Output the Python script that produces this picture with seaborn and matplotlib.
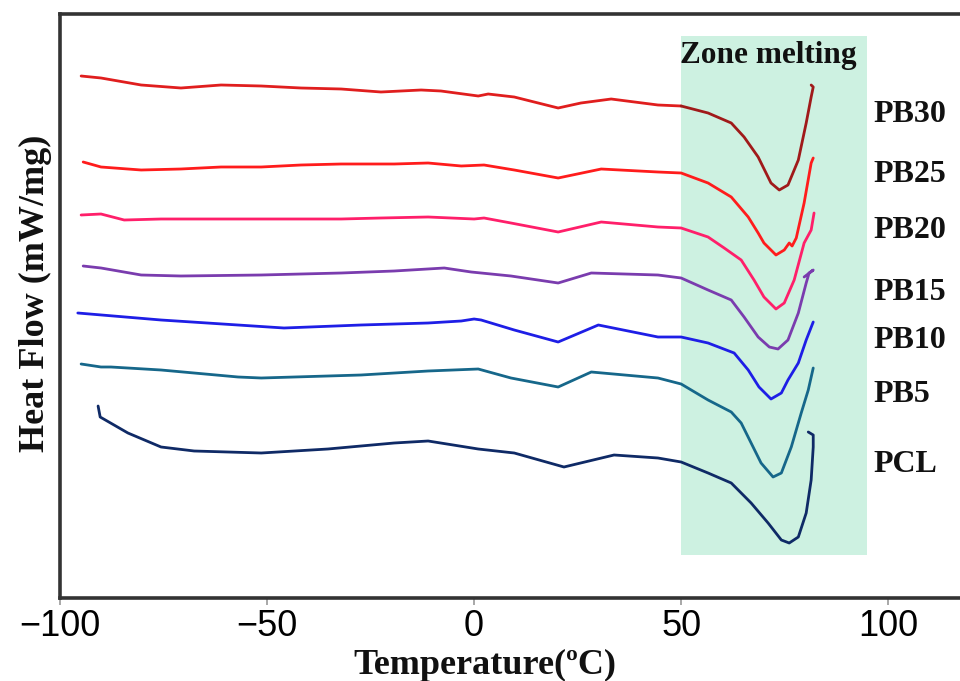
import pandas as pd
import matplotlib.pyplot as plt
import seaborn as sns

# DSC curves (heat flow in arbitrary, stacked units)
temp_pb30 = [-94.9, -90.1, -80.4, -70.8, -61.1, -51.4, -41.8, -32.1, -22.5, -12.8, -8.0, 1.0, 3.4, 9.7,
             20.3, 25.8, 33.1, 44.4, 50.0, 56.5, 62.1, 65.2, 68.6, 71.7, 73.7, 75.8, 78.3, 80.2, 81.4, 81.9, 81.4]
hf_pb30 = [5.21, 5.19, 5.12, 5.09, 5.12, 5.11, 5.09, 5.08, 5.05, 5.07, 5.06, 5.01, 5.03, 5.00,
           4.89, 4.94, 4.98, 4.92, 4.91, 4.84, 4.74, 4.60, 4.40, 4.14, 4.07, 4.12, 4.37, 4.74, 5.00, 5.10, 5.12]

temp_pb25 = [-94.4, -90.1, -80.4, -70.8, -61.1, -51.4, -41.8, -32.1, -19.3, -11.1, -3.1, 2.4, 9.7, 20.3,
             30.7, 44.4, 50.0, 56.5, 62.1, 66.2, 68.6, 70.0, 72.9, 74.9, 76.1, 76.8, 77.8, 79.7, 81.4, 81.9]
hf_pb25 = [4.35, 4.30, 4.27, 4.28, 4.30, 4.30, 4.32, 4.33, 4.33, 4.34, 4.31, 4.32, 4.27, 4.19,
           4.28, 4.25, 4.24, 4.14, 4.00, 3.80, 3.64, 3.54, 3.42, 3.47, 3.54, 3.51, 3.59, 3.94, 4.34, 4.39]

temp_pb20 = [-94.9, -90.1, -84.5, -75.6, -51.4, -32.1, -22.5, -11.1, 0.0, 2.4, 8.9, 20.3, 30.7,
             44.4, 50.0, 56.5, 60.4, 64.5, 67.6, 70.0, 72.9, 74.9, 77.3, 79.7, 81.4, 82.1]
hf_pb20 = [3.82, 3.83, 3.77, 3.78, 3.78, 3.78, 3.79, 3.80, 3.78, 3.79, 3.74, 3.65, 3.75,
           3.70, 3.69, 3.60, 3.49, 3.37, 3.17, 3.00, 2.88, 2.94, 3.17, 3.54, 3.67, 3.84]

temp_pb15 = [-94.4, -90.1, -80.4, -70.8, -51.4, -32.1, -19.3, -7.2, -0.7, 8.9, 20.3, 28.3, 44.4,
             50.0, 56.5, 62.1, 65.2, 68.6, 71.3, 73.4, 75.8, 78.3, 80.2, 80.9, 81.9, 79.7]
hf_pb15 = [3.31, 3.29, 3.22, 3.21, 3.22, 3.24, 3.26, 3.29, 3.25, 3.21, 3.14, 3.24, 3.22,
           3.19, 3.07, 2.97, 2.80, 2.60, 2.50, 2.48, 2.57, 2.84, 3.14, 3.24, 3.27, 3.20]

temp_pb10 = [-95.7, -75.6, -45.9, -27.3, -11.1, -3.1, 0.0, 1.7, 9.7, 20.3, 30.0, 44.4, 50.0,
             56.5, 62.8, 66.2, 68.8, 71.7, 74.2, 75.8, 78.3, 80.2, 81.9]
hf_pb10 = [2.84, 2.77, 2.69, 2.72, 2.74, 2.76, 2.78, 2.77, 2.67, 2.55, 2.72, 2.60, 2.60,
           2.54, 2.44, 2.27, 2.10, 1.98, 2.04, 2.17, 2.34, 2.57, 2.75]

temp_pb5 = [-94.9, -90.1, -87.7, -75.6, -57.0, -51.4, -27.3, -11.1, 1.0, 8.9, 20.3, 28.3, 44.4,
            50.0, 56.5, 62.1, 64.5, 66.9, 69.3, 72.2, 74.2, 76.6, 79.0, 80.7, 81.9]
hf_pb5 = [2.33, 2.30, 2.30, 2.27, 2.20, 2.19, 2.22, 2.26, 2.28, 2.19, 2.10, 2.25, 2.19,
          2.13, 1.97, 1.85, 1.74, 1.54, 1.34, 1.20, 1.24, 1.50, 1.84, 2.07, 2.29]

temp_pcl = [-90.8, -90.3, -83.6, -75.6, -67.6, -51.4, -35.3, -19.3, -11.1, 1.0, 9.7, 21.7, 33.8,
            44.4, 50.0, 56.5, 62.1, 66.9, 71.0, 74.2, 76.1, 78.3, 80.2, 81.4, 81.9, 81.9, 80.7]
hf_pcl = [1.91, 1.80, 1.64, 1.50, 1.46, 1.44, 1.48, 1.54, 1.56, 1.48, 1.44, 1.30, 1.42,
          1.39, 1.35, 1.24, 1.14, 0.94, 0.74, 0.57, 0.54, 0.60, 0.84, 1.17, 1.50, 1.62, 1.65]

samples = ['PB30', 'PB25', 'PB20', 'PB15', 'PB10', 'PB5', 'PCL']
label_y = [4.82, 4.22, 3.67, 3.04, 2.57, 2.02, 1.32]

curvas = {
    'PB30': (temp_pb30, hf_pb30, '#e01e1e'),
    'PB25': (temp_pb25, hf_pb25, '#ff1c1c'),
    'PB20': (temp_pb20, hf_pb20, '#ff1f6a'),
    'PB15': (temp_pb15, hf_pb15, '#7a3cae'),
    'PB10': (temp_pb10, hf_pb10, '#1e1ee6'),
    'PB5': (temp_pb5, hf_pb5, '#16678a'),
    'PCL': (temp_pcl, hf_pcl, '#0f2a66'),
}

sns.set_theme(style='white')
serif = ['Liberation Serif', 'DejaVu Serif']
sans = ['Liberation Sans', 'DejaVu Sans']

fig = plt.figure(figsize=(9.6, 6.81), dpi=100)
ax = fig.add_axes([60 / 960, 83 / 681, 911 / 960, 584.5 / 681])

# faixa da zona de fusão
ax.fill_between([50, 95], 0.42, 5.61, color='#cdf1e1', linewidth=0, zorder=0)
ax.text(71, 5.41, 'Zone melting', ha='center', va='center', fontsize=22.5,
        fontweight='bold', family=serif, color='#111111')

for nome in samples:
    t, h, cor = curvas[nome]
    df = pd.DataFrame({'T': t, 'HF': h})
    if nome == 'PB30':
        # PB30 fica mais escuro dentro da zona
        sns.lineplot(data=df[df['T'] <= 50], x='T', y='HF', sort=False, estimator=None,
                     color=cor, linewidth=2.0, ax=ax)
        sns.lineplot(data=df[df['T'] >= 50], x='T', y='HF', sort=False, estimator=None,
                     color='#a01a1a', linewidth=2.0, ax=ax)
    else:
        sns.lineplot(data=df, x='T', y='HF', sort=False, estimator=None,
                     color=cor, linewidth=2.0, ax=ax)

for nome, y in zip(samples, label_y):
    ax.text(96.4, y, nome, ha='left', va='center', fontsize=23,
            fontweight='bold', family=serif, color='#111111')

ax.set_xlim(-100, 120)
ax.set_ylim(-0.01, 5.835)
ax.set_xticks([-100, -50, 0, 50, 100])
ax.set_yticks([])
ax.set_xlabel('')
ax.set_ylabel('')
ax.tick_params(axis='x', bottom=True, length=5, width=1.2, color='#999999',
               labelsize=26, pad=3, labelcolor='black')
for lab in ax.get_xticklabels():
    lab.set_family(sans)

for lado in ['left', 'bottom', 'top']:
    ax.spines[lado].set_color('#333333')
    ax.spines[lado].set_linewidth(2.6)
ax.spines['right'].set_visible(False)

fig.text(485 / 960, 0.011, 'Temperature(ºC)', ha='center', va='baseline',
         fontsize=26, fontweight='bold', family=serif, color='#111111')
fig.text(35 / 960, 0.57, 'Heat Flow (mW/mg)', ha='center', va='center', rotation=90,
         fontsize=26, fontweight='bold', family=serif, color='#111111')

fig.savefig('out.png', dpi=100)
